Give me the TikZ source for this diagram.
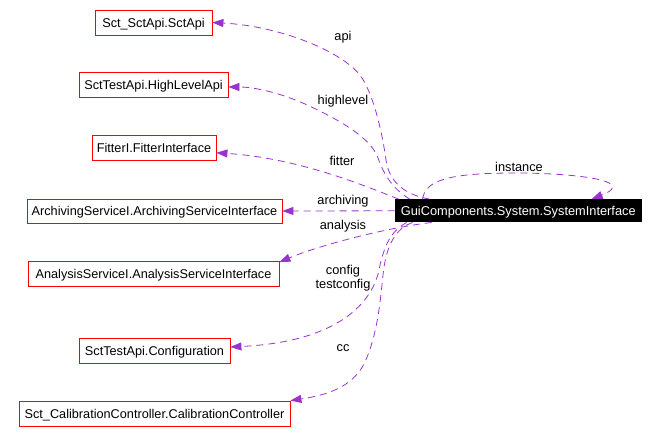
\documentclass[tikz,border=0pt]{standalone}
\usepackage{fontspec}
\setmainfont{Liberation Sans}
\usetikzlibrary{arrows.meta}
\definecolor{edgec}{RGB}{154,50,205}
\begin{document}
\begin{tikzpicture}[x=1pt,y=-1pt,
  cls/.style={draw=red, line width=0.8pt, fill=white, font=\fontsize{12.7}{15}\selectfont,
    inner sep=0pt, minimum height=25pt, text height=9.2pt, text depth=0pt},
  guibox/.style={fill=black, text=white, font=\fontsize{12.8}{15}\selectfont,
    inner sep=0pt, minimum height=23pt, minimum width=247pt, text height=9.2pt, text depth=0pt},
  dep/.style={draw=edgec, line width=0.8pt, dash pattern=on 7pt off 5pt,
    -{Triangle[length=11pt,width=8pt]}},
  lbl/.style={font=\fontsize{12.8}{15}\selectfont, anchor=base, inner sep=0pt}
]
\useasboundingbox (0,0) rectangle (659,443);

\node[cls, minimum width=117pt] (api) at (153.5,22.5) {Sct\_SctApi.SctApi};
\node[cls, minimum width=149pt] (hl) at (153.5,85) {SctTestApi.HighLevelApi};
\node[cls, minimum width=124pt] (fitter) at (154,147.8) {FitterI.FitterInterface};
\node[cls, minimum width=255pt, minimum height=24pt] (arch) at (154.5,211) {ArchivingServiceI.ArchivingServiceInterface};
\node[cls, minimum width=251pt] (anal) at (153.5,273.5) {AnalysisServiceI.AnalysisServiceInterface};
\node[cls, minimum width=151pt] (conf) at (154.5,350.5) {SctTestApi.Configuration};
\node[cls, minimum width=271pt] (calib) at (154.5,413.5) {Sct\_CalibrationController.CalibrationController};
\node[guibox] (gui) at (518.3,210.8) {GuiComponents.System.SystemInterface};

% edges
\draw[dep] ([xshift=35pt]gui.north west) .. controls (405,195) and (389,182) .. (386,160)
  .. controls (383,138) and (375,98) .. (362,78)
  .. controls (345,52) and (280,26) .. (api.east);
\draw[dep] ([xshift=15pt]gui.north west) .. controls (395,190) and (385,178) .. (378,158)
  .. controls (371,138) and (340,120) .. (305,104)
  .. controls (280,93) and (255,87) .. ([yshift=-2pt]hl.east);
\draw[dep] ([xshift=4pt]gui.north west) .. controls (370,188) and (300,158) .. ([yshift=-5pt]fitter.east);
\draw[dep] (gui.west) -- (arch.east);
\draw[dep] ([xshift=37pt]gui.south west) .. controls (390,227) and (320,245) .. ([yshift=-1.5pt]anal.north east);
\draw[dep] ([xshift=12pt]gui.south west) .. controls (390,232) and (385,245) .. (380,265)
  .. controls (374,305) and (335,342) .. ([yshift=3.5pt]conf.east);
\draw[dep] ([xshift=18pt]gui.south west) .. controls (396,228) and (386,245) .. (383,275)
  .. controls (380,305) and (377,335) .. (365,362)
  .. controls (352,390) and (320,396) .. (calib.north east);
\draw[dep] ([xshift=28pt]gui.north west) .. controls (425,180) and (450,173) .. (515,173)
  .. controls (570,173) and (640,180) .. ([xshift=197pt]gui.north west);

% labels
\node[lbl] (lapi) at (343,40.5) {api};
\node[lbl] (lhl) at (343,104.5) {highlevel};
\node[lbl] (lfit) at (342,166) {fitter};
\node[lbl] (larch) at (343,205) {archiving};
\node[lbl] (lanal) at (343,230) {analysis};
\node[lbl] (linst) at (519,171.7) {instance};
\node[lbl] (lconf) at (343,274.5) {config};
\node[lbl] (ltconf) at (343,289) {testconfig};
\node[lbl] (lcc) at (343,351.7) {cc};
\end{tikzpicture}
\end{document}
